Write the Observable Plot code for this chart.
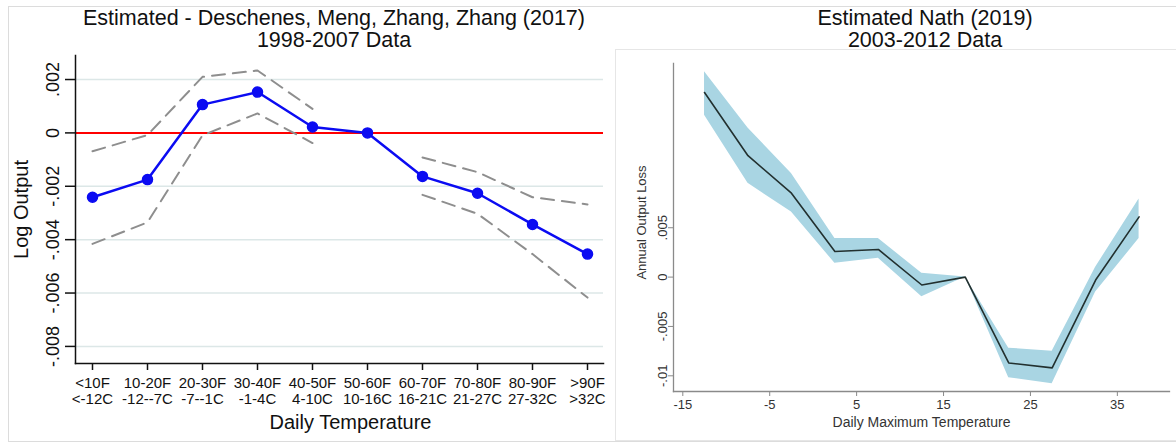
<!DOCTYPE html>
<html>
<head>
<meta charset="utf-8">
<script src="https://cdn.jsdelivr.net/npm/d3@7"></script>
<script src="https://cdn.jsdelivr.net/npm/@observablehq/plot@0.6"></script>
<style>
  html, body { margin: 0; padding: 0; background: #fff; }
  #wrap { position: relative; width: 1176px; height: 445px; overflow: hidden; font-family: "Liberation Sans", Arial, Helvetica, sans-serif; }
  .abs { position: absolute; }
  .title { font-size: 21.5px; line-height: 21px; height: 21px; text-align: center; color: #111; white-space: nowrap; }
  #outer { left: 8px; top: 6px; width: 1170px; height: 436px; border: 1px solid #dcdcdc; box-sizing: border-box; }
  #rbox { left: 615px; top: 49px; width: 570px; height: 392px; border: 1px solid #e6e6e6; background: #fff; box-sizing: border-box; }
  svg { overflow: visible; }
</style>
</head>
<body>
<div id="wrap">
  <div id="outer" class="abs"></div>
  <div id="rbox" class="abs"></div>
  <div class="abs title" style="left:0px; top:8px; width:668px;">Estimated - Deschenes, Meng, Zhang, Zhang (2017)</div>
  <div class="abs title" style="left:0px; top:30px; width:668px;">1998-2007 Data</div>
  <div class="abs title" style="left:725px; top:8px; width:400px;">Estimated Nath (2019)</div>
  <div class="abs title" style="left:725px; top:30px; width:400px;">2003-2012 Data</div>
  <div id="left" class="abs" style="left:0px; top:0px;"></div>
  <div id="right" class="abs" style="left:615px; top:0px;"></div>
</div>
<script>
const FONT = '"Liberation Sans", Arial, Helvetica, sans-serif';

// ---- Left panel data (Deschenes, Meng, Zhang, Zhang 2017) ----
const binsLeft = ["<10F\n<-12C", "10-20F\n-12--7C", "20-30F\n-7--1C", "30-40F\n-1-4C", "40-50F\n4-10C",
                  "50-60F\n10-16C", "60-70F\n16-21C", "70-80F\n21-27C", "80-90F\n27-32C", ">90F\n>32C"];
const estLeft   = [-0.00241, -0.00175, 0.00106, 0.00153, 0.00022, 0, -0.00163, -0.00226, -0.00343, -0.00454];
const upperLeft = [-0.00069, -0.00008, 0.00210, 0.00234, 0.00090, NaN, -0.00092, -0.00147, -0.00241, -0.00268];
const lowerLeft = [-0.00416, -0.00335, -0.00009, 0.00073, -0.00038, NaN, -0.00232, -0.00303, -0.00454, -0.00617];
const yTicksLeft = [0.002, 0, -0.002, -0.004, -0.006, -0.008];

// ---- Right panel data (Nath 2019) ----
const tempRight = [-12.5, -7.5, -2.5, 2.5, 7.5, 12.5, 17.5, 22.5, 27.5, 32.5, 37.5];
const estRight  = [0.0187, 0.0123, 0.0085, 0.0026, 0.0028, -0.0008, 0, -0.0087, -0.0092, -0.0003, 0.0061];
const hiRight   = [0.0208, 0.0151, 0.0105, 0.0039, 0.0039, 0.0004, 0, -0.0072, -0.0075, 0.0010, 0.0079];
const loRight   = [0.0164, 0.0095, 0.0066, 0.0014, 0.0019, -0.0020, 0, -0.0102, -0.0108, -0.0015, 0.0039];
const xTicksRight = [-15, -5, 5, 15, 25, 35];
const yTicksRight = [0.005, 0, -0.005, -0.01];

const stataFmt = v => v === 0 ? "0" : String(v).replace("0.", ".");

const leftData = binsLeft.map((b, i) => ({bin: b, est: estLeft[i], upper: upperLeft[i], lower: lowerLeft[i]}));
const rightData = tempRight.map((t, i) => ({t, est: estRight[i], hi: hiRight[i], lo: loRight[i]}));

const BLUE = "#0b0bf2";
const GREY_DASH = "#8e8e8e";

const left = Plot.plot({
  width: 610, height: 445,
  marginLeft: 75, marginRight: 7, marginTop: 55, marginBottom: 82,
  style: {fontFamily: FONT, fontSize: "15px", color: "#111", background: "transparent", overflow: "visible"},
  x: {type: "point", domain: binsLeft, padding: 0.3, label: null},
  y: {domain: [-0.00864, 0.0029], label: null},
  marks: [
    Plot.gridY(yTicksLeft, {stroke: "#dce7e7", strokeOpacity: 1, strokeWidth: 1.5}),
    Plot.ruleY([0], {stroke: "#ff0000", strokeWidth: 2}),
    Plot.line(leftData, {x: "bin", y: "upper", stroke: GREY_DASH, strokeWidth: 2, strokeDasharray: "13,8"}),
    Plot.line(leftData, {x: "bin", y: "lower", stroke: GREY_DASH, strokeWidth: 2, strokeDasharray: "13,8"}),
    Plot.line(leftData, {x: "bin", y: "est", stroke: BLUE, strokeWidth: 2.5}),
    Plot.dot(leftData, {x: "bin", y: "est", r: 5, fill: BLUE, stroke: BLUE}),
    Plot.axisY(yTicksLeft, {tickFormat: stataFmt, tickSize: 10, tickRotate: -90, tickPadding: 7, fontSize: 18, label: null, stroke: "#111", strokeWidth: 1.5, fill: "#111"}),
    Plot.axisX({tickSize: 7, tickPadding: 6, fontSize: 15, lineHeight: 1.07, label: null, stroke: "#111", strokeWidth: 1.5, fill: "#111"}),
    Plot.frame({anchor: "left", stroke: "#111", strokeWidth: 1.5}),
    Plot.frame({anchor: "bottom", stroke: "#111", strokeWidth: 1.5}),
    Plot.text(["Log Output"], {frameAnchor: "left", textAnchor: "middle", lineAnchor: "middle", rotate: -90, dx: -54, fontSize: 20, fill: "#111"}),
    Plot.text(["Daily Temperature"], {frameAnchor: "bottom", textAnchor: "middle", lineAnchor: "middle", dy: 59, dx: 11, fontSize: 20, fill: "#111"})
  ]
});
document.getElementById("left").appendChild(left);

const AX = "#8a8a8a";
const right = Plot.plot({
  width: 561, height: 445,
  marginLeft: 58, marginRight: 7, marginTop: 63, marginBottom: 54,
  style: {fontFamily: FONT, fontSize: "13px", color: "#333", background: "transparent", overflow: "visible"},
  x: {domain: [-16.07, 41.0], label: null},
  y: {domain: [-0.01159, 0.02164], label: null},
  marks: [
    Plot.areaY(rightData, {x: "t", y1: "lo", y2: "hi", fill: "#a9d5e3", fillOpacity: 1}),
    Plot.line(rightData, {x: "t", y: "est", stroke: "#22302f", strokeWidth: 1.6}),
    Plot.axisY(yTicksRight, {tickFormat: stataFmt, tickSize: 5, tickRotate: -90, tickPadding: 2, fontSize: 13, label: null, stroke: AX, fill: "#333"}),
    Plot.axisX(xTicksRight, {tickFormat: d => String(d), tickSize: 5, tickPadding: 3, fontSize: 13, label: null, stroke: AX, fill: "#333"}),
    Plot.frame({anchor: "left", stroke: AX, strokeWidth: 1.3}),
    Plot.frame({anchor: "bottom", stroke: AX, strokeWidth: 1.3}),
    Plot.text(["Annual Output Loss"], {frameAnchor: "left", textAnchor: "middle", lineAnchor: "middle", rotate: -90, dx: -32, dy: -5, fontSize: 13, fill: "#333"}),
    Plot.text(["Daily Maximum Temperature"], {frameAnchor: "bottom", textAnchor: "middle", lineAnchor: "middle", dy: 31, fontSize: 14, fill: "#333"})
  ]
});
document.getElementById("right").appendChild(right);
</script>
</body>
</html>
